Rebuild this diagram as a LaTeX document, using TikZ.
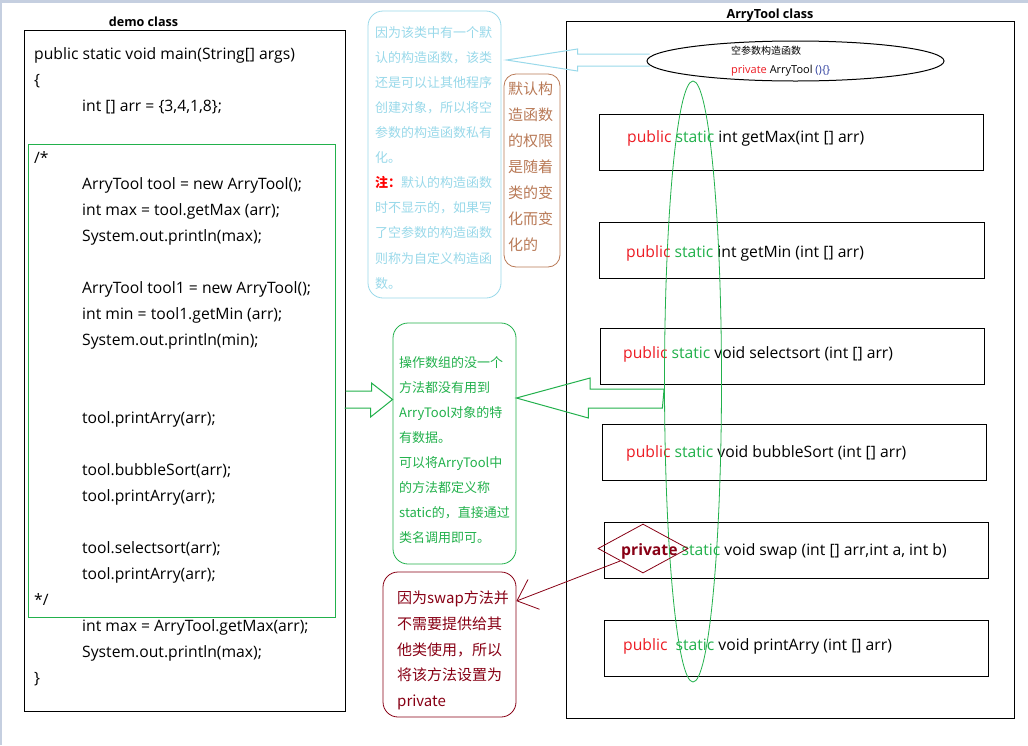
\documentclass[tikz,border=0pt]{standalone}
\usepackage{fontspec}
\setmainfont{Noto Sans CJK SC}
\newfontfamily\codefont{Open Sans}
\usepackage{tikz}
\usetikzlibrary{positioning, calc, shapes, arrows.meta}

\definecolor{tipblue}{HTML}{99D9EA}
\definecolor{tipbrown}{HTML}{B97A57}
\definecolor{tipgreen}{HTML}{22B14C}
\definecolor{tipmaroon}{HTML}{880015}
\definecolor{kwred}{HTML}{ED1C24}
\definecolor{kwgreen}{HTML}{22B14C}
\definecolor{parnavy}{HTML}{2F3F9F}
\definecolor{framegray}{HTML}{C5CFE0}

\newcommand{\codeindent}{\hspace*{48pt}}
\newcommand{\kwpub}{\textcolor{kwred}{public}}
\newcommand{\kwstat}{\textcolor{kwgreen}{static}}

\tikzset{
	classbox/.style={draw, rectangle, line width=1pt, inner sep=0pt},
	method/.style={draw, rectangle, line width=1pt, minimum height=56pt, inner sep=0pt},
	note/.style={draw, rectangle, rounded corners=15pt, line width=0.8pt, inner sep=0pt},
	codetext/.style={anchor=mid west, inner sep=0pt, font=\codefont\fontsize{15.7}{26}\selectfont},
	notetext/.style={anchor=north west, align=left, inner sep=0pt},
	title/.style={font=\codefont\fontsize{12.6}{14}\selectfont\bfseries},
	hollow/.style={line width=1pt, line join=miter},
}

\begin{document}
\begin{tikzpicture}[x=1pt, y=-1pt]
		\useasboundingbox (0,0) rectangle (1028,745);
		\fill[white] (0,0) rectangle (1028,745);
		\fill[framegray] (0,0) rectangle (1028,3);
		\fill[framegray] (0,0) rectangle (1.5,745);
		
		%demo class
		\node (demo title) at (143.5,21.5) [title]{demo class};
		\node (demo box) at (184.5,370.5) [classbox, minimum width=321pt, minimum height=681pt]{};
		\node (comment box) at (181.5,380.5) [draw=tipgreen, rectangle, line width=0.8pt, minimum 
		width=307pt, minimum height=473pt]{};
		
		\node (demo code) at (34,47.5) [anchor=north west, align=left, inner sep=0pt, 
		font=\codefont\fontsize{15.7}{26}\selectfont]{public static void main(String[] args)\\
			\{\\
			\codeindent int [] arr = \{3,4,1,8\};\\
			~\\
			/*\\
			\codeindent ArryTool tool = new ArryTool();\\
			\codeindent int max = tool.getMax (arr);\\
			\codeindent System.out.println(max);\\
			~\\
			\codeindent ArryTool tool1 = new ArryTool();\\
			\codeindent int min = tool1.getMin (arr);\\
			\codeindent System.out.println(min);\\
			~\\
			~\\
			\codeindent tool.printArry(arr);\\
			~\\
			\codeindent tool.bubbleSort(arr);\\
			\codeindent tool.printArry(arr);\\
			~\\
			\codeindent tool.selectsort(arr);\\
			\codeindent tool.printArry(arr);\\
			*/\\
			\codeindent int max = ArryTool.getMax(arr);\\
			\codeindent System.out.println(max);\\
			\}};
		
		%ArryTool class
		\node (tool title) at (770,15.5) [title]{ArryTool class};
		\node (tool box) at (790,369.5) [classbox, minimum width=448pt, minimum height=697pt]{};
		
		\node (ctor) at (795.5,61) [draw, ellipse, line width=1pt, minimum width=297pt, minimum 
		height=40pt, inner sep=0pt]{};
		\node (ctor name) at (731,52) [anchor=mid west, inner sep=0pt, 
		font=\fontsize{10}{12}\selectfont]{空参数构造函数};
		\node (ctor code) at (731,71) [codetext, font=\codefont\fontsize{11}{12}\selectfont]{\textcolor{kwred}{private} 
		ArryTool \textcolor{parnavy}{()\{\}}};
		
		\node (getMax) at (791,142) [method, minimum width=384pt]{};
		\node (getMin) at (791.5,250) [method, minimum width=385pt]{};
		\node (selectsort) at (792,356) [method, minimum width=384pt]{};
		\node (bubbleSort) at (794,452) [method, minimum width=384pt]{};
		\node (swap) at (796,550) [method, minimum width=384pt]{};
		\node (printArry) at (796,648) [method, minimum width=384pt]{};
		
		\node (getMax text) at (627,140) [codetext]{\kwpub{} \kwstat{} int getMax(int [] arr)};
		\node (getMin text) at (626,255) [codetext]{\kwpub{} \kwstat{} int getMin (int [] arr)};
		\node (selectsort text) at (623,356) [codetext]{\kwpub{} \kwstat{} void selectsort (int [] arr)};
		\node (bubbleSort text) at (626,455) [codetext]{\kwpub{} \kwstat{} void bubbleSort (int [] arr)};
		\node (swap text) at (621,553) [codetext]{\textcolor{tipmaroon}{\bfseries private} \kwstat{} void 
		swap (int [] arr,int a, int b)};
		\node (printArry text) at (623,648) [codetext]{\kwpub{}\ \ \kwstat{} void printArry (int [] arr)};
		
		\node (static ring) at (693,381.5) [draw=tipgreen, ellipse, line width=0.8pt, minimum width=57pt, 
		minimum height=601pt, inner sep=0pt]{};
		\node (private mark) at (643,548.5) [draw=tipmaroon, diamond, line width=0.8pt, minimum width=90pt, 
		minimum height=49pt, inner sep=0pt]{};
		
		%Notes
		\node (info note) at (434.5,154.5) [note, draw=tipblue, minimum width=133pt, minimum 
		height=287pt]{};
		\node (info text) at (375,26) [notetext, text=tipblue, font=\fontsize{13}{25.1}\selectfont]{因为该类中有一个默\\
			认的构造函数，该类\\
			还是可以让其他程序\\
			创建对象，所以将空\\
			参数的构造函数私有\\
			化。\\
			\textcolor{red}{\bfseries 注：}默认的构造函数\\
			时不显示的，如果写\\
			了空参数的构造函数\\
			则称为自定义构造函\\
			数。};
		
		\node (access note) at (532,170.5) [note, draw=tipbrown, rounded corners=12pt, minimum width=56pt, 
		minimum height=193pt]{};
		\node (access text) at (508,82) [notetext, text=tipbrown, font=\fontsize{15}{26}\selectfont]{默认构\\
			造函数\\
			的权限\\
			是随着\\
			类的变\\
			化而变\\
			化的};
		
		\node (static note) at (454.5,443.5) [note, draw=tipgreen, minimum width=123pt, minimum 
		height=241pt]{};
		\node (static text) at (399,356) [notetext, text=tipgreen, font=\fontsize{13}{25}\selectfont]{操作数组的没一个\\
			方法都没有用到\\
			ArryTool对象的特\\
			有数据。\\
			可以将ArryTool中\\
			的方法都定义称\\
			static的，直接通过\\
			类名调用即可。};
		
		\node (private note) at (449.5,644.5) [note, draw=tipmaroon, minimum width=133pt, minimum 
		height=145pt]{};
		\node (private text) at (397,590.5) [notetext, text=tipmaroon, font=\fontsize{15}{25.8}\selectfont]{因为swap方法并\\
			不需要提供给其\\
			他类使用，所以\\
			将该方法设置为\\
			private};
		
		%Links
		\draw[tipblue, hollow] (ctor.west) ++(3,-7) -- ++(-72,0) -- ++(0,-5) -- ++(-71,11) -- ++(71,11) 
		-- ++(0,-5) -- ++(72,0);
		\draw[tipgreen, hollow] (demo box.east |- 0,391) -- ++(26,0) -- ++(0,-8) -- (static note.west |- 
		0,399.5) -- ++(-22,17.5) -- ++(0,-9) -- ++(-26,0);
		\draw[tipgreen, hollow] (static ring.west |- 0,389) -- ++(-74,0) -- ++(0,-11) -- (static 
		note.east |- 0,398) -- ++(72,20) -- ++(0,-10) -- ++(74,0) -- cycle;
		\draw[tipmaroon, line width=0.8pt, -{Straight Barb[length=18pt, width=32pt]}] (private 
		mark.south west) -- (private note.33);
		
\end{tikzpicture}
\end{document}
